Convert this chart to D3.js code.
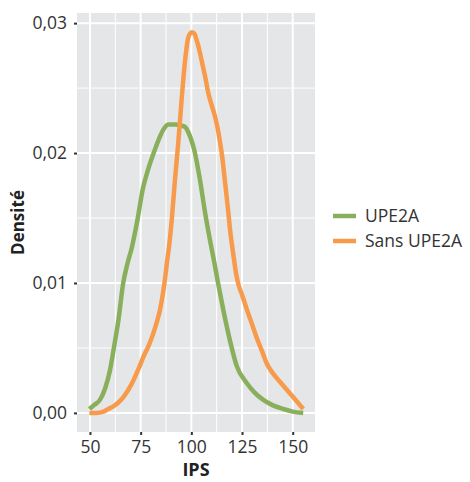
<!DOCTYPE html>
<html><head><meta charset="utf-8">
<script src="https://cdn.jsdelivr.net/npm/d3@7"></script>
<style>body{margin:0;background:#fff;} text{font-family:"Open Sans",sans-serif;}</style>
</head><body>
<svg id="c" width="470" height="482"></svg>
<script>
const seriesNames = ["UPE2A", "Sans UPE2A"];
const seriesColors = ["#8aaf5c", "#f89a4b"];
const xTicks = [50, 75, 100, 125, 150];
const yTicks = [0, 0.01, 0.02, 0.03];
const yTickLabels = ["0,00", "0,01", "0,02", "0,03"];

const upe2aX = [49.7, 52, 54.9, 57.5, 59.9, 62, 64, 66.4, 68.5, 70.6, 73, 76.3, 78.8, 81.2, 83.8, 86.2, 88.6, 92, 95.2, 97, 98.5, 100, 101.5, 104.3, 106.7, 109.2, 111.3, 113.3, 115.8, 119, 122.4, 127.3, 131, 135.5, 140, 145.3, 150, 155.2];
const upe2aY = [0.0003, 0.0006, 0.0010, 0.0019, 0.0033, 0.0052, 0.0071, 0.0100, 0.0115, 0.0127, 0.0145, 0.0174, 0.0188, 0.0199, 0.0210, 0.0218, 0.0222, 0.0222, 0.0221, 0.0220, 0.0216, 0.0210, 0.0202, 0.0179, 0.0155, 0.0133, 0.0116, 0.0099, 0.0079, 0.0056, 0.0036, 0.0023, 0.0016, 0.0010, 0.0006, 0.0003, 0.0001, 0.0];

const sansX = [49.7, 53, 56.6, 59, 61.5, 64, 66.4, 69, 71.4, 74, 76.3, 79, 81.2, 83, 84.5, 86, 87, 88, 89, 90.3, 91.9, 93.5, 95.2, 96.9, 98.5, 100.2, 101.5, 102.6, 104, 105.1, 106.8, 108.4, 110, 111.7, 113, 114.1, 115.4, 116.6, 118, 119.1, 120.7, 122, 123.2, 125, 127.3, 130, 132.2, 135, 137.2, 140, 143.7, 147, 150.3, 155.2];
const sansY = [0.0, 0.0, 0.0001, 0.0003, 0.0005, 0.0008, 0.0012, 0.0018, 0.0025, 0.0034, 0.0043, 0.0052, 0.0061, 0.0070, 0.0079, 0.0092, 0.0103, 0.0116, 0.0128, 0.0148, 0.0179, 0.0207, 0.0241, 0.0271, 0.0289, 0.0293, 0.0292, 0.0287, 0.0279, 0.0271, 0.0259, 0.0246, 0.0237, 0.0228, 0.0219, 0.0209, 0.0195, 0.0178, 0.0158, 0.0141, 0.0122, 0.0108, 0.0099, 0.0091, 0.0080, 0.0068, 0.0058, 0.0047, 0.0038, 0.0031, 0.0024, 0.0018, 0.0012, 0.0003];

const svg = d3.select("#c");
const L = 77, R = 315, T = 13, B = 432;
const x = d3.scaleLinear().domain([43.6, 161]).range([L, R]);
const y = d3.scaleLinear().domain([-0.00147, 0.03078]).range([B, T]);

svg.append("rect").attr("x", L).attr("y", T).attr("width", R - L).attr("height", B - T).attr("fill", "#e5e6e8");

const xMinor = [62.5, 87.5, 112.5, 137.5];
const yMinor = [0.005, 0.015, 0.025];
const g = svg.append("g");
g.selectAll(".xm").data(xMinor).join("line").attr("x1", d => x(d)).attr("x2", d => x(d)).attr("y1", T).attr("y2", B).attr("stroke", "#fff").attr("stroke-width", 1);
g.selectAll(".ym").data(yMinor).join("line").attr("y1", d => y(d)).attr("y2", d => y(d)).attr("x1", L).attr("x2", R).attr("stroke", "#fff").attr("stroke-width", 1);
g.selectAll(".xM").data(xTicks).join("line").attr("x1", d => x(d)).attr("x2", d => x(d)).attr("y1", T).attr("y2", B).attr("stroke", "#fff").attr("stroke-width", 2);
g.selectAll(".yM").data(yTicks).join("line").attr("y1", d => y(d)).attr("y2", d => y(d)).attr("x1", L).attr("x2", R).attr("stroke", "#fff").attr("stroke-width", 2);

const xAxis = svg.append("g").attr("transform", `translate(0,${B})`)
  .call(d3.axisBottom(x).tickValues(xTicks).tickSize(3).tickPadding(6).tickFormat(d3.format("d")));
xAxis.select(".domain").remove();
xAxis.selectAll(".tick line").attr("stroke", "#333").attr("stroke-width", 2);
xAxis.selectAll("text").attr("font-size", 17.5).attr("fill", "#333").attr("font-family", "Open Sans");

const yAxis = svg.append("g").attr("transform", `translate(${L},0)`)
  .call(d3.axisLeft(y).tickValues(yTicks).tickSize(3).tickPadding(7).tickFormat((d, i) => yTickLabels[i]));
yAxis.select(".domain").remove();
yAxis.selectAll(".tick line").attr("stroke", "#333").attr("stroke-width", 2);
yAxis.selectAll("text").attr("font-size", 17.5).attr("fill", "#333").attr("font-family", "Open Sans");

const line = d3.line().x(d => x(d[0])).y(d => y(d[1])).curve(d3.curveMonotoneX);
const data = [d3.zip(upe2aX, upe2aY), d3.zip(sansX, sansY)];
svg.append("g").selectAll("path").data(data).join("path")
  .attr("d", line).attr("fill", "none").attr("stroke", (d, i) => seriesColors[i])
  .attr("stroke-width", 4.5).attr("stroke-linejoin", "round").attr("stroke-linecap", "butt");

svg.append("text").attr("x", (L + R) / 2).attr("y", 476).attr("text-anchor", "middle")
  .attr("font-size", 18).attr("font-weight", "bold").attr("fill", "#222").text("IPS");
svg.append("text").attr("transform", `translate(24,${(T + B) / 2}) rotate(-90)`).attr("text-anchor", "middle")
  .attr("font-size", 17).attr("font-weight", "bold").attr("fill", "#222").text("Densité");

const leg = svg.append("g");
seriesNames.forEach((n, i) => {
  const yy = 216 + i * 25;
  leg.append("line").attr("x1", 333).attr("x2", 356).attr("y1", yy).attr("y2", yy).attr("stroke", seriesColors[i]).attr("stroke-width", 4.5);
  leg.append("text").attr("x", 365).attr("y", yy + 6).attr("font-size", 17.5).attr("fill", "#333").text(n);
});
</script>
</body></html>
